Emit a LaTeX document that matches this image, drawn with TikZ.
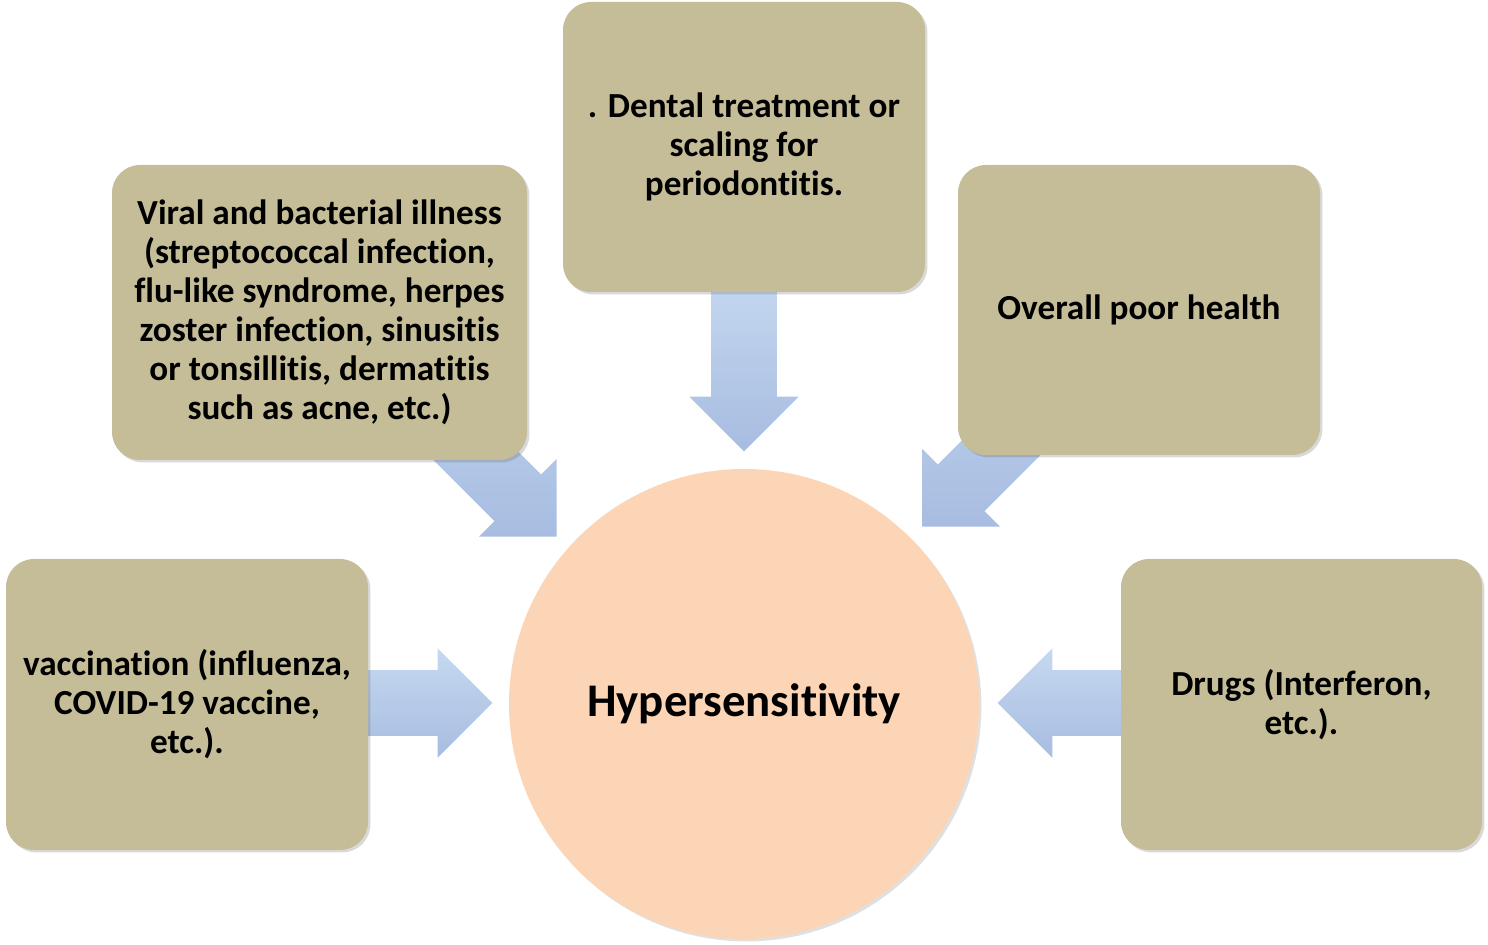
\documentclass[tikz,border=0pt]{standalone}
\usepackage{fontspec}
\setmainfont{Carlito}[Ligatures={NoCommon}]
\usetikzlibrary{shapes.arrows,shadows}
\definecolor{boxfill}{HTML}{C4BD97}
\definecolor{circfill}{HTML}{FBD5B5}
\definecolor{arrowlight}{HTML}{C6D9F1}
\definecolor{arrowdark}{HTML}{A7BCE0}
\pgfdeclarelayer{background}
\pgfsetlayers{background,main}
\begin{document}
\begin{tikzpicture}[x=0.5pt,y=-0.5pt,
  causebox/.style={fill=boxfill, rounded corners=14pt, align=center, inner sep=0pt,
    font=\fontsize{17.6}{19.5}\selectfont\bfseries,
    drop shadow={shadow xshift=1.2pt, shadow yshift=-1.2pt, opacity=0.25, fill=black!60}},
  centre/.style={circle, fill=circfill, minimum size=235pt, inner sep=0pt,
    font=\fontsize{23.4}{27}\selectfont\bfseries,
    drop shadow={shadow xshift=1.2pt, shadow yshift=-1.2pt, opacity=0.2, fill=black!60}},
  blockarrow/.style={single arrow, draw=none, inner xsep=0pt, inner ysep=16.25pt,
    minimum width=54.5pt, single arrow head extend=11pt, single arrow head indent=0pt, anchor=tip,
    top color=arrowlight, bottom color=arrowdark}]
\useasboundingbox (0,0) rectangle (1488,945);

\node[centre] (hyper) at (744,704) {Hypersensitivity};

\node[causebox, minimum width=181pt, minimum height=145pt] (dental) at (744,147)
  {. Dental treatment or\\scaling for\\periodontitis.};
\node[causebox, minimum width=207.5pt, minimum height=147.5pt] (viral) at (319.5,312.5)
  {Viral and bacterial illness\\(streptococcal infection,\\flu-like syndrome, herpes\\zoster infection, sinusitis\\or tonsillitis, dermatitis\\such as acne, etc.)};
\node[causebox, minimum width=181pt, minimum height=145pt] (health) at (1139,310)
  {Overall poor health};
\node[causebox, minimum width=181pt, minimum height=145.5pt] (vacc) at (187,704.5)
  {vaccination (influenza,\\COVID-19 vaccine,\\etc.).};
\node[causebox, minimum width=180.5pt, minimum height=145.5pt] (drugs) at (1301.5,704.5)
  {Drugs (Interferon,\\etc.).};

\coordinate (tipT) at (744,452);
\coordinate (tipLD) at (557,537);
\coordinate (tipRD) at (922,527);
\coordinate (tipL) at (493,703);
\coordinate (tipR) at (997,703);

\begin{pgfonlayer}{background}
\node[blockarrow, rotate=-90, minimum height=91pt] (arrT) at (tipT) {};
\node[blockarrow, rotate=-45, minimum height=141.5pt] (arrLD) at (tipLD) {};
\node[blockarrow, rotate=-135, minimum height=141.5pt] (arrRD) at (tipRD) {};
\node[blockarrow, rotate=0, minimum height=69pt] (arrL) at (tipL) {};
\node[blockarrow, rotate=180, minimum height=69pt] (arrR) at (tipR) {};
\end{pgfonlayer}
\end{tikzpicture}
\end{document}
